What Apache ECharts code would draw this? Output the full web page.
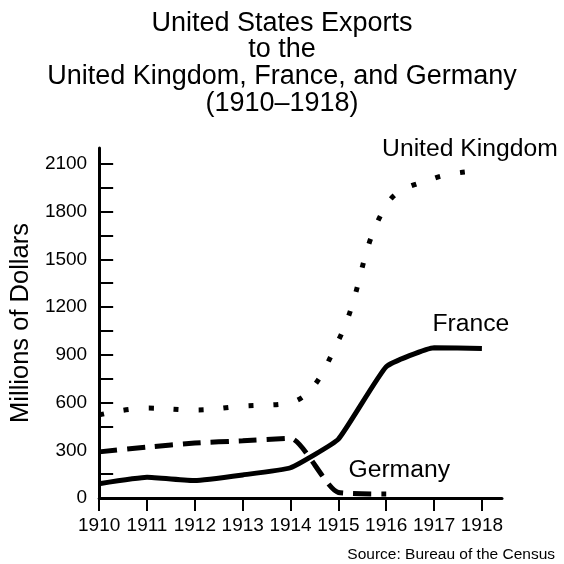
<!DOCTYPE html>
<html>
<head>
<meta charset="utf-8">
<script src="https://cdn.jsdelivr.net/npm/echarts@6/dist/echarts.min.js"></script>
<style>
  html, body { margin: 0; padding: 0; background: #fff; }
  #chart { width: 564px; height: 564px; }
</style>
</head>
<body>
<div id="chart"></div>
<script>
// years on the x axis
const years = [1910, 1911, 1912, 1913, 1914, 1915, 1916, 1917, 1918]
// exports, millions of dollars
const ukValues = [522, 565, 553, 578, 600, 990, 1840, 2010, 2057]
const franceValues = [90, 130, 110, 145, 190, 370, 825, 945, 940]
const germanyValues = [290, 320, 345, 360, 375, 35, 25]
// y axis ticks / labels
const yTicks = [0, 150, 300, 450, 600, 750, 900, 1050, 1200, 1350, 1500, 1650, 1800, 1950, 2100]
const yLabels = [0, 300, 600, 900, 1200, 1500, 1800, 2100]

const font = 'Liberation Sans, Arial, Helvetica, sans-serif'

// build [year, value] pairs, with a name label on one point
function toPoints(values, labelIndex, labelText, offset) {
  return values.map((v, i) => {
    const p = { value: [years[i], v] }
    if (i === labelIndex) {
      p.label = {
        show: true,
        position: 'top',
        offset: offset,
        formatter: labelText,
        color: '#000',
        fontFamily: font,
        fontSize: 24.7
      }
    }
    return p
  })
}

const chart = echarts.init(document.getElementById('chart'))

chart.setOption({
  backgroundColor: '#fff',
  animation: false,
  title: [
    {
      text: 'United States Exports\nto the\nUnited Kingdom, France, and Germany\n(1910–1918)',
      left: 'center',
      top: 5,
      textStyle: {
        color: '#000',
        fontFamily: font,
        fontWeight: 'normal',
        fontSize: 27,
        lineHeight: 26.6
      }
    },
    {
      text: 'Source: Bureau of the Census',
      right: 4,
      top: 542,
      textStyle: {
        color: '#000',
        fontFamily: font,
        fontWeight: 'normal',
        fontSize: 15.5
      }
    }
  ],
  grid: {
    left: 99,
    right: 62,
    top: 148,
    bottom: 66,
    containLabel: false
  },
  xAxis: {
    type: 'value',
    min: 1910,
    max: 1918.42,
    interval: 1,
    axisLine: { show: true, lineStyle: { color: '#000', width: 3 } },
    axisTick: {
      show: true,
      customValues: years,
      length: 13,
      lineStyle: { color: '#000', width: 2 }
    },
    axisLabel: {
      customValues: years,
      margin: 18,
      color: '#000',
      fontFamily: font,
      fontSize: 19,
      formatter: v => String(v)
    },
    splitLine: { show: false }
  },
  yAxis: {
    type: 'value',
    min: 0,
    max: 2200,
    name: 'Millions of Dollars',
    nameLocation: 'middle',
    nameGap: 56,
    nameTextStyle: { color: '#000', fontFamily: font, fontSize: 25.5 },
    axisLine: { show: true, lineStyle: { color: '#000', width: 3 } },
    axisTick: {
      show: true,
      inside: true,
      customValues: yTicks,
      length: 14,
      lineStyle: { color: '#000', width: 2 }
    },
    axisLabel: {
      customValues: yLabels,
      margin: 12,
      color: '#000',
      fontFamily: font,
      fontSize: 19,
      formatter: v => String(v)
    },
    splitLine: { show: false }
  },
  series: [
    {
      name: 'United Kingdom',
      type: 'line',
      smooth: 0.4,
      symbol: 'circle',
      symbolSize: 0,
      showSymbol: true,
      lineStyle: { color: '#000', width: 5, type: [5, 20] },
      data: toPoints(ukValues, 8, 'United Kingdom', [-12, -4])
    },
    {
      name: 'France',
      type: 'line',
      smooth: 0.12,
      symbol: 'circle',
      symbolSize: 0,
      showSymbol: true,
      lineStyle: { color: '#000', width: 5 },
      data: toPoints(franceValues, 8, 'France', [-11, -7])
    },
    {
      name: 'Germany',
      type: 'line',
      smooth: 0.2,
      symbol: 'circle',
      symbolSize: 0,
      showSymbol: true,
      lineStyle: { color: '#000', width: 5, type: [18, 10] },
      data: toPoints(germanyValues, 6, 'Germany', [13, -6])
    }
  ]
})
</script>
</body>
</html>
